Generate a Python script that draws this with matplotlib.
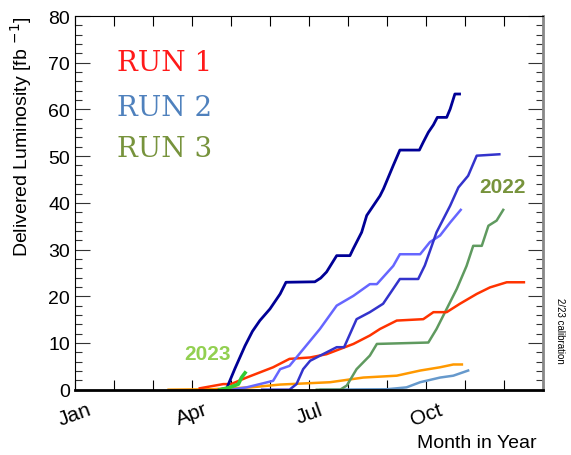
import matplotlib.pyplot as plt
import numpy as np
from matplotlib.ticker import MultipleLocator, AutoMinorLocator, FixedLocator, FixedFormatter

# months since Jan 1 (x) and delivered luminosity in fb^-1 (y)
navy_m = [3.70, 3.89, 4.10, 4.36, 4.55, 4.74, 5.00, 5.26, 5.41, 6.15, 6.30, 6.45, 6.71, 7.05, 7.13,
          7.35, 7.48, 7.65, 7.82, 7.91, 8.16, 8.33, 8.83, 8.93, 9.06, 9.19, 9.29, 9.53, 9.62, 9.74, 9.86]
navy_v = [0.0, 0.3, 4.5, 9.4, 12.5, 14.8, 17.3, 20.5, 23.0, 23.1, 23.9, 25.2, 28.7, 28.7, 30.1,
          33.7, 37.3, 39.4, 41.5, 43.0, 48.0, 51.3, 51.3, 53.0, 55.1, 56.7, 58.3, 58.3, 60.1, 63.3, 63.3]

mblue_m = [4.8, 5.5, 5.68, 5.85, 6.03, 6.71, 6.90, 7.22, 7.56, 7.90, 8.33, 8.80, 8.97, 9.27, 9.62,
           9.83, 10.08, 10.30, 10.88]
mblue_v = [0.0, 0.0, 1.2, 4.4, 6.2, 9.1, 9.1, 15.1, 16.6, 18.4, 23.7, 23.7, 26.6, 33.7, 39.4,
           43.3, 45.8, 50.1, 50.4]

purple_m = [4.0, 4.40, 5.08, 5.26, 5.50, 6.28, 6.71, 7.14, 7.56, 7.74, 8.16, 8.33, 8.85, 9.10,
            9.36, 9.62, 9.89]
purple_v = [0.0, 0.5, 1.9, 4.4, 5.1, 13.0, 18.0, 20.1, 22.6, 22.6, 26.5, 29.0, 29.0, 31.6,
            33.0, 35.8, 38.5]

red_m = [3.20, 3.80, 4.00, 4.40, 5.08, 5.50, 6.03, 6.45, 7.14, 7.56, 7.82, 8.25, 8.93, 9.19,
         9.53, 9.87, 10.30, 10.64, 11.07, 11.51]
red_v = [0.3, 1.2, 1.2, 2.6, 4.8, 6.6, 6.9, 7.6, 9.8, 11.6, 13.0, 14.8, 15.1, 16.6,
         16.6, 18.4, 20.5, 21.9, 23.0, 23.0]

green22_m = [6.2, 6.80, 6.97, 7.22, 7.56, 7.74, 9.06, 9.27, 9.79, 10.04, 10.21, 10.43, 10.60,
             10.81, 10.98]
green22_v = [0.0, 0.0, 0.9, 4.4, 7.3, 9.8, 10.1, 13.0, 21.6, 26.5, 30.8, 30.8, 35.1,
             36.2, 38.5]

orange_m = [2.40, 3.50, 4.50, 5.26, 6.54, 7.39, 8.25, 8.85, 9.36, 9.70, 9.92]
orange_v = [0.0, 0.1, 0.5, 1.1, 1.6, 2.6, 3.0, 4.1, 4.8, 5.4, 5.4]

steel_m = [6.3, 8.0, 8.50, 8.85, 9.36, 9.70, 10.08]
steel_v = [0.0, 0.1, 0.5, 1.6, 2.6, 3.0, 4.1]

green23_m = [3.72, 3.97, 4.19, 4.27, 4.36]
green23_v = [0.0, 0.5, 1.2, 2.6, 3.6]

month_labels = ["Jan", "", "", "Apr", "", "", "Jul", "", "", "Oct", "", "", ""]

fig = plt.figure(figsize=(5.71, 4.56), dpi=100)
ax = fig.add_axes([0.1313, 0.1432, 0.8197, 0.8195])
sans = "Liberation Sans"

ax.plot(orange_m, orange_v, color="#ff9900", lw=1.8)
ax.plot(steel_m, steel_v, color="#6699cc", lw=1.8)
ax.plot(green22_m, green22_v, color="#5f9a5f", lw=1.8)
ax.plot(red_m, red_v, color="#ff3300", lw=1.8)
ax.plot(purple_m, purple_v, color="#6666ff", lw=1.8)
ax.plot(mblue_m, mblue_v, color="#3333cc", lw=1.8)
ax.plot(navy_m, navy_v, color="#000096", lw=2.0)
ax.plot(green23_m, green23_v, color="#33cc33", lw=2.6)

ax.set_xlim(0, 12)
ax.set_ylim(0, 80)

ax.xaxis.set_major_locator(FixedLocator(range(13)))
ax.xaxis.set_major_formatter(FixedFormatter(month_labels))
ax.yaxis.set_major_locator(MultipleLocator(10))
ax.yaxis.set_minor_locator(AutoMinorLocator(5))

ax.tick_params(axis="x", which="major", direction="in", length=7, width=0.8,
               top=True, bottom=True, labelsize=15, pad=7)
ax.tick_params(axis="y", which="major", direction="in", length=11, width=0.8,
               left=True, right=True, labelsize=14, color="#333333")
ax.tick_params(axis="y", which="minor", direction="in", length=5, width=0.8,
               left=True, right=True, color="#333333")
for lab in ax.get_xticklabels():
    lab.set_rotation(20)
    lab.set_fontfamily(sans)
for lab in ax.get_yticklabels():
    lab.set_fontfamily(sans)

ax.spines["bottom"].set_linewidth(2)
ax.spines["right"].set_linewidth(2)
ax.spines["right"].set_color("#888888")
ax.spines["left"].set_linewidth(0.8)
ax.spines["top"].set_linewidth(0.8)

ax.set_ylabel(r"Delivered Luminosity [fb $^{-1}$]", fontsize=14, family=sans)
ax.yaxis.set_label_coords(-0.088, 0.68)
fig.text(537 / 571, 1 - 444 / 456, "Month in Year", fontsize=14, family=sans,
         ha="right", va="center")
fig.text(560 / 571, 1 - 331 / 456, "2/23 calibration", fontsize=7, family=sans,
         rotation=-90, ha="center", va="center")

serif = "DejaVu Serif"
ax.text(0.09, 0.855, "RUN 1", transform=ax.transAxes, fontsize=20, family=serif, color="#ff1a1a")
ax.text(0.09, 0.735, "RUN 2", transform=ax.transAxes, fontsize=20, family=serif, color="#4f81bd")
ax.text(0.09, 0.625, "RUN 3", transform=ax.transAxes, fontsize=20, family=serif, color="#77933c")

ax.text(10.97, 43.4, "2022", fontsize=15, family=sans, weight="bold", color="#77933c",
        ha="center", va="center")
ax.text(3.41, 7.8, "2023", fontsize=15, family=sans, weight="bold", color="#92d050",
        ha="center", va="center")

fig.savefig("out.png", dpi=100)
